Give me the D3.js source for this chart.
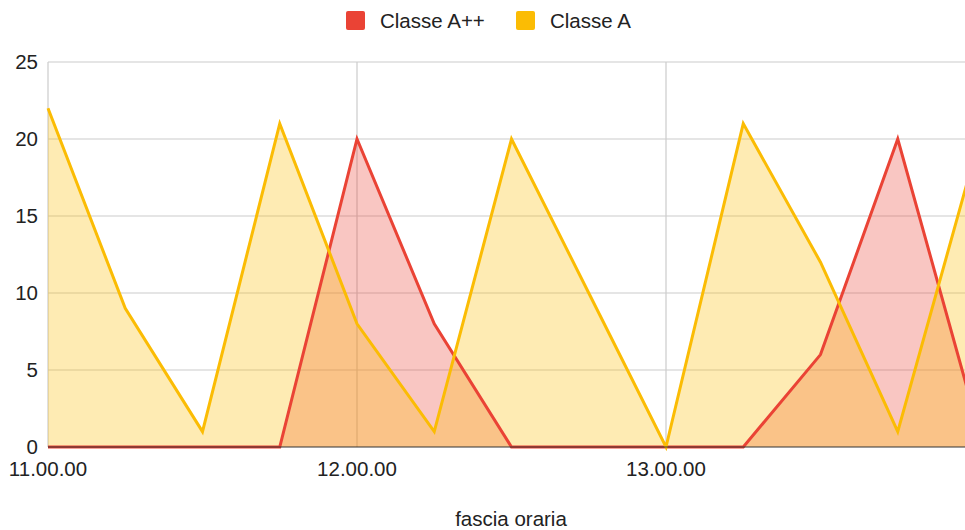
<!DOCTYPE html>
<html>
<head>
<meta charset="utf-8">
<script src="https://cdn.jsdelivr.net/npm/d3@7"></script>
<style>
  body { margin: 0; background: #fff; }
  svg { display: block; font-family: "Liberation Sans", Arial, sans-serif; }
</style>
</head>
<body>
<div id="chart"></div>
<script>
// fasce orarie ogni 15 minuti (ore decimali)
const times = [11, 11.25, 11.5, 11.75, 12, 12.25, 12.5, 12.75, 13, 13.25, 13.5, 13.75, 14];
const classeApp = [0, 0, 0, 0, 20, 8, 0, 0, 0, 0, 6, 20, 2];
const classeA = [22, 9, 1, 21, 8, 1, 20, 10, 0, 21, 12, 1, 19];
const xTicks = [11, 12, 13];
const xTickLabels = ["11.00.00", "12.00.00", "13.00.00"];
const yTicks = [0, 5, 10, 15, 20, 25];

const series = [
  { name: "Classe A++", color: "#EA4335", values: classeApp },
  { name: "Classe A", color: "#FBBC04", values: classeA }
];

const W = 965, H = 530;
const margin = { top: 62, right: -10, bottom: 83, left: 48 };

const svg = d3.select("#chart").append("svg")
  .attr("width", W)
  .attr("height", H);

const x = d3.scaleLinear()
  .domain([11, 14])
  .range([margin.left, W - margin.right]);

const y = d3.scaleLinear()
  .domain([0, 25])
  .range([H - margin.bottom, margin.top]);

// griglia orizzontale
svg.append("g")
  .selectAll("line")
  .data(yTicks.filter(d => d > 0))
  .join("line")
  .attr("x1", margin.left)
  .attr("x2", W)
  .attr("y1", d => y(d))
  .attr("y2", d => y(d))
  .attr("stroke", "#ccc")
  .attr("stroke-width", 1.2);

// griglia verticale
svg.append("g")
  .selectAll("line")
  .data(xTicks)
  .join("line")
  .attr("x1", d => x(d))
  .attr("x2", d => x(d))
  .attr("y1", y(25))
  .attr("y2", y(0))
  .attr("stroke", "#ccc")
  .attr("stroke-width", 1.2);

const area = d3.area()
  .x((d, i) => x(times[i]))
  .y0(y(0))
  .y1(d => y(d));

const line = d3.line()
  .x((d, i) => x(times[i]))
  .y(d => y(d));

series.forEach(s => {
  svg.append("path")
    .datum(s.values)
    .attr("d", area)
    .attr("fill", s.color)
    .attr("fill-opacity", 0.3);
});

series.forEach(s => {
  svg.append("path")
    .datum(s.values)
    .attr("d", line)
    .attr("fill", "none")
    .attr("stroke", s.color)
    .attr("stroke-width", 3)
    .attr("stroke-linejoin", "miter");
});

// linea base
svg.append("line")
  .attr("x1", margin.left)
  .attr("x2", W)
  .attr("y1", y(0))
  .attr("y2", y(0))
  .attr("stroke", "#333")
  .attr("stroke-width", 1);

// etichette asse y
svg.append("g")
  .selectAll("text")
  .data(yTicks)
  .join("text")
  .attr("x", 38)
  .attr("y", d => y(d))
  .attr("dy", "0.35em")
  .attr("text-anchor", "end")
  .style("font-size", "20.5px")
  .style("fill", "#222")
  .text(d => d);

// etichette asse x
svg.append("g")
  .selectAll("text")
  .data(xTicks)
  .join("text")
  .attr("x", d => x(d))
  .attr("y", y(0) + 29)
  .attr("text-anchor", "middle")
  .style("font-size", "20.5px")
  .style("fill", "#222")
  .text((d, i) => xTickLabels[i]);

svg.append("text")
  .attr("x", 511)
  .attr("y", 526)
  .attr("text-anchor", "middle")
  .style("font-size", "20.5px")
  .style("fill", "#222")
  .text("fascia oraria");

// legenda
const legendPos = [346, 516];
const legend = svg.append("g");
series.forEach((s, i) => {
  const g = legend.append("g").attr("transform", `translate(${legendPos[i]},11)`);
  g.append("rect")
    .attr("width", 19)
    .attr("height", 19)
    .attr("rx", 2)
    .attr("fill", s.color);
  g.append("text")
    .attr("x", 34)
    .attr("y", 10)
    .attr("dy", "0.35em")
    .style("font-size", "20.5px")
    .style("fill", "#222")
    .text(s.name);
});
</script>
</body>
</html>
